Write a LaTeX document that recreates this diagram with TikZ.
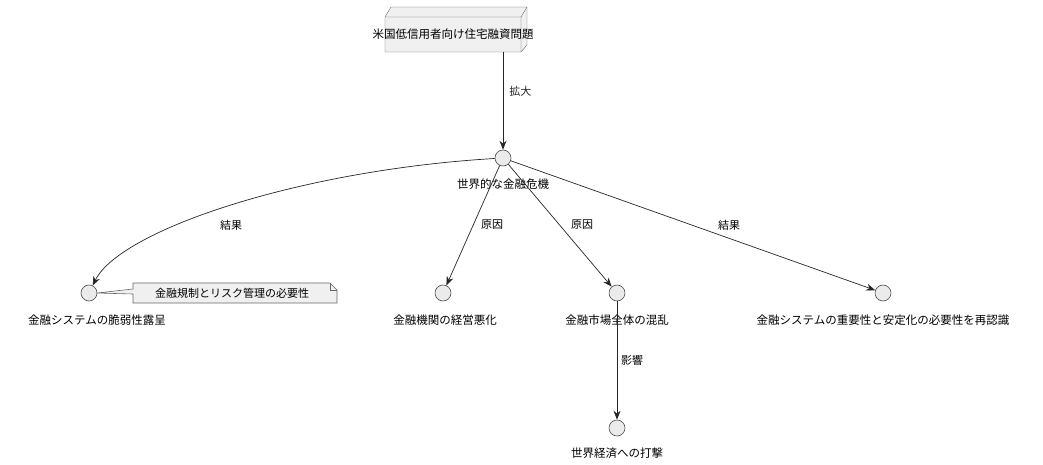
\documentclass[tikz,border=0pt]{standalone}
\usepackage{fontspec}
\setmainfont{Noto Sans CJK JP}
\usetikzlibrary{arrows.meta}
\begin{document}
\begin{tikzpicture}[x=1pt,y=-1pt,
  every node/.style={font=\fontsize{11.5}{13}\selectfont, inner sep=0pt},
  circ/.style={circle, draw=black!70, fill=black!8, minimum size=16pt, line width=0.6pt},
  arr/.style={-{Stealth[length=9pt,width=7pt]}, line width=0.7pt, black!85},
  lbl/.style={font=\fontsize{11}{13}\selectfont}]
\useasboundingbox (0,0) rectangle (1043,465);
% top box
\fill[black!6] (385,17) rectangle (521,52);
\draw[black!60, fill=black!6] (385,17) -- (391,7) -- (527,7) -- (527,45) -- (521,52) -- (385,52) -- cycle;
\draw[black!60] (385,17) -- (521,17) -- (527,7) (521,17) -- (521,52);
\node (top) at (453,34) {米国低信用者向け住宅融資問題};
\coordinate (topb) at (503,52);
\node[circ] (c) at (503,158) {};
\node at (503,184) {世界的な金融危機};
\node[circ] (a1) at (89,293) {};
\node[circ] (a2) at (443,293) {};
\node[circ] (a3) at (617,293) {};
\node[circ] (a4) at (883,293) {};
\node[circ] (a5) at (617,428) {};
\node at (97,320) {金融システムの脆弱性露呈};
\node at (445,320) {金融機関の経営悪化};
\node at (617,320) {金融市場全体の混乱};
\node at (883,320) {金融システムの重要性と安定化の必要性を再認識};
\node at (617,453) {世界経済への打撃};
\draw[arr] (topb) -- (c) node[lbl, pos=0.4, right=6pt] {拡大};
\draw[arr] (c) .. controls (300,170) and (120,230) .. (a1) node[lbl,pos=0.45, above=2pt] {};
\node[lbl] at (231,225) {結果};
\draw[arr] (c) -- (a2);
\node[lbl] at (492,225) {原因};
\draw[arr] (c) -- (a3);
\node[lbl] at (582,225) {原因};
\draw[arr] (c) -- (a4);
\node[lbl] at (729,225) {結果};
\draw[arr] (a3) -- (a5);
\node[lbl] at (632,360) {影響};
% note
\draw[black!60, fill=black!6, line width=0.6pt] (133,283) -- (330,283) -- (337,290) -- (337,303) -- (133,303) -- (133,294) -- (97,293) -- (133,289) -- cycle;
\draw[black!60, line width=0.6pt] (330,283) -- (330,290) -- (337,290);
\node (note) at (232,293) {\fontsize{11}{13}\selectfont 金融規制とリスク管理の必要性};
\end{tikzpicture}
\end{document}
